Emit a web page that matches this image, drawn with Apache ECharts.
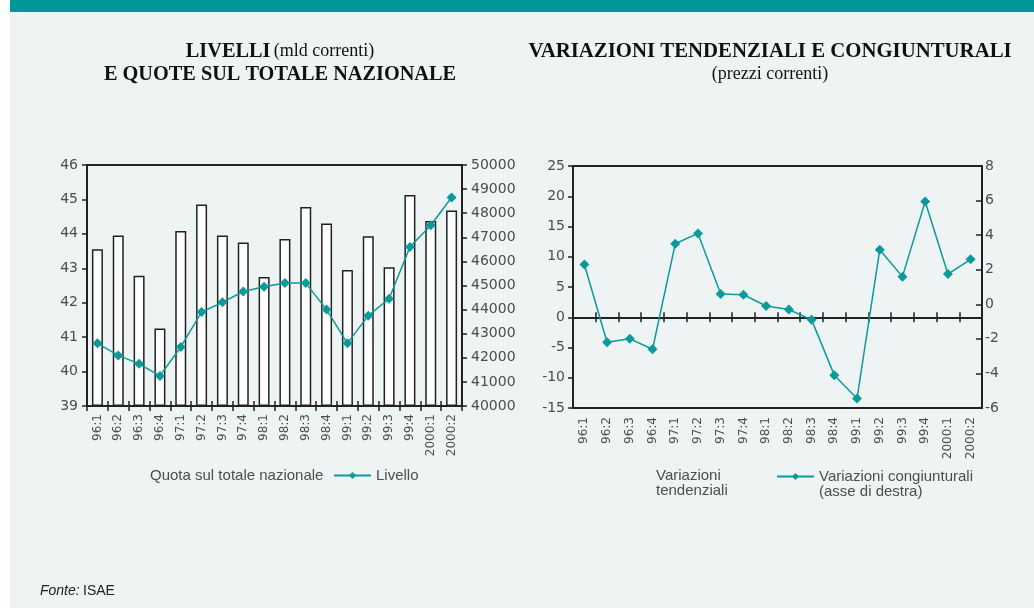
<!DOCTYPE html>
<html>
<head>
<meta charset="utf-8">
<script src="https://cdn.jsdelivr.net/npm/echarts@6/dist/echarts.min.js"></script>
<style>
  html, body { margin: 0; padding: 0; background: #fff; }
  #main { width: 1034px; height: 608px; }
</style>
</head>
<body>
<div id="main"></div>
<script>
// dati
const categories = ['96:1', '96:2', '96:3', '96:4', '97:1', '97:2', '97:3', '97:4', '98:1',
  '98:2', '98:3', '98:4', '99:1', '99:2', '99:3', '99:4', '2000:1', '2000:2'];
const quota = [43.55, 43.95, 42.78, 41.25, 44.08, 44.85, 43.95, 43.75, 42.75,
  43.85, 44.78, 44.3, 42.95, 43.93, 43.03, 45.13, 44.37, 44.68];
const livello = [42600, 42100, 41750, 41250, 42450, 43900, 44300, 44750, 44950,
  45100, 45100, 44000, 42600, 43750, 44450, 46600, 47500, 48650];
const tendenziali = []; // nessun valore visibile nel grafico
const congiunturali = [2.3, -2.2, -2.0, -2.6, 3.5, 4.1, 0.6, 0.55, -0.1,
  -0.3, -0.9, -4.1, -5.45, 3.15, 1.6, 5.95, 1.75, 2.6];

const teal = '#0a9a9c';
const ink = '#222';
const labelColor = '#4d4d4d';
const sans = 'DejaVu Sans';
const legendFont = 'Liberation Sans';

const labelY = { color: labelColor, fontFamily: sans, fontSize: 14, formatter: v => String(v) };
const labelX = { color: labelColor, fontFamily: sans, fontSize: 12, rotate: 90, margin: 8, interval: 0 };
const tickStyle = { color: ink, width: 1.5 };

function catAxis(grid, extra) {
  return Object.assign({
    type: 'category', gridIndex: grid, data: categories, boundaryGap: true,
    position: 'bottom',
    axisLine: { show: true, onZero: false, lineStyle: { color: ink, width: 2 } },
    axisTick: { show: true, length: 5, interval: 0, lineStyle: tickStyle },
    axisLabel: { show: false, interval: 0 },
    splitLine: { show: false }
  }, extra);
}

function valAxis(grid, pos, min, max, step, extra) {
  return Object.assign({
    type: 'value', gridIndex: grid, position: pos, min: min, max: max, interval: step,
    axisLine: { show: true, lineStyle: { color: ink, width: 2 } },
    axisTick: { show: true, length: 5, lineStyle: tickStyle },
    axisLabel: Object.assign({ margin: 9 }, labelY),
    splitLine: { show: false }
  }, extra);
}

const legendText = { fontFamily: legendFont, fontSize: 15, color: labelColor };

const option = {
  backgroundColor: '#fff',
  animation: false,
  graphic: [
    { type: 'rect', shape: { x: 10, y: 0, width: 1024, height: 12 }, style: { fill: '#00979a' }, z: -10 },
    { type: 'rect', shape: { x: 10, y: 12, width: 1024, height: 596 }, style: { fill: '#eef4f4' }, z: -10 },
    {
      type: 'text', x: 280, y: 40,
      style: {
        text: '{b|LIVELLI} {n|(mld correnti)}\n{b|E QUOTE SUL TOTALE NAZIONALE}',
        align: 'center', verticalAlign: 'top', fill: '#111',
        rich: {
          b: { fontFamily: 'Liberation Serif', fontSize: 20.3, fontWeight: 'bold', lineHeight: 23, fill: '#111' },
          n: { fontFamily: 'Liberation Serif', fontSize: 18, lineHeight: 23, fill: '#111' }
        }
      }
    },
    {
      type: 'text', x: 770, y: 40,
      style: {
        text: '{b|VARIAZIONI TENDENZIALI E CONGIUNTURALI}\n{n|(prezzi correnti)}',
        align: 'center', verticalAlign: 'top', fill: '#111',
        rich: {
          b: { fontFamily: 'Liberation Serif', fontSize: 20.8, fontWeight: 'bold', lineHeight: 23, fill: '#111', align: 'center' },
          n: { fontFamily: 'Liberation Serif', fontSize: 18, lineHeight: 23, fill: '#111', align: 'center' }
        }
      }
    },
    {
      type: 'text', x: 40, y: 584,
      style: {
        text: '{i|Fonte:} {n|ISAE}',
        rich: {
          i: { fontFamily: legendFont, fontSize: 14, fontStyle: 'italic', fill: '#222' },
          n: { fontFamily: legendFont, fontSize: 14, fill: '#222' }
        }
      }
    }
  ],
  grid: [
    { left: 87, right: 572, top: 165, bottom: 202, show: true, borderColor: ink, borderWidth: 2, outerBoundsMode: 'none' },
    { left: 573, right: 52, top: 166, bottom: 200, show: true, borderColor: ink, borderWidth: 2, outerBoundsMode: 'none' }
  ],
  legend: [
    {
      data: [{ name: 'Quota sul totale nazionale', icon: 'none' }],
      left: 140, top: 463, itemWidth: 0, itemHeight: 9, textStyle: legendText
    },
    {
      data: ['Livello'], left: 328, top: 463, itemWidth: 37, itemHeight: 9, textStyle: legendText
    },
    {
      data: [{ name: 'Variazioni tendenziali', icon: 'none' }],
      left: 646, top: 463, itemWidth: 0, itemHeight: 9,
      formatter: function () { return 'Variazioni\ntendenziali'; },
      textStyle: Object.assign({ lineHeight: 15 }, legendText)
    },
    {
      data: ['Variazioni congiunturali (asse di destra)'], left: 771, top: 449, itemWidth: 37, itemHeight: 9,
      // riga vuota in testa: il simbolo resta all'altezza della prima riga di testo
      formatter: function () { return ' \nVariazioni congiunturali\n(asse di destra)'; },
      textStyle: Object.assign({ lineHeight: 15 }, legendText)
    }
  ],
  xAxis: [
    // grafico di sinistra
    catAxis(0, { axisLabel: labelX }),
    catAxis(0, { axisLine: { show: false, onZero: false }, axisTick: { show: true, inside: true, length: 5, interval: 0, lineStyle: tickStyle } }),
    // grafico di destra: linea sullo zero, etichette in basso
    catAxis(1, { axisLine: { show: true, onZero: true, onZeroAxisIndex: 2, lineStyle: { color: ink, width: 2 } } }),
    catAxis(1, { axisLine: { show: false, onZero: true, onZeroAxisIndex: 2 }, axisTick: { show: true, inside: true, length: 5, interval: 0, lineStyle: tickStyle } }),
    catAxis(1, { axisTick: { show: false }, axisLabel: Object.assign({}, labelX, { margin: 9 }) })
  ],
  yAxis: [
    valAxis(0, 'left', 39, 46, 1, { startValue: 39 }),
    valAxis(0, 'right', 40000, 50000, 1000),
    valAxis(1, 'left', -15, 25, 5, { axisLabel: Object.assign({ margin: 8 }, labelY) }),
    valAxis(1, 'right', -6, 8, 2, {
      axisTick: { show: true, inside: true, length: 6, lineStyle: tickStyle },
      axisLabel: Object.assign({ margin: 3 }, labelY)
    })
  ],
  series: [
    {
      name: 'Quota sul totale nazionale', type: 'bar', xAxisIndex: 0, yAxisIndex: 0,
      data: quota, barWidth: 11,
      itemStyle: { color: '#fff', borderColor: ink, borderWidth: 1.5 }
    },
    {
      name: 'Livello', type: 'line', xAxisIndex: 0, yAxisIndex: 1, data: livello,
      symbol: 'diamond', symbolSize: 10, z: 5,
      lineStyle: { color: teal, width: 1.5 }, itemStyle: { color: teal }
    },
    {
      name: 'Variazioni tendenziali', type: 'bar', xAxisIndex: 2, yAxisIndex: 2,
      data: tendenziali, itemStyle: { color: '#fff', borderColor: ink }
    },
    {
      name: 'Variazioni congiunturali (asse di destra)', type: 'line', xAxisIndex: 2, yAxisIndex: 3,
      data: congiunturali, symbol: 'diamond', symbolSize: 10, z: 5,
      lineStyle: { color: teal, width: 1.5 }, itemStyle: { color: teal }
    }
  ]
};

const chart = echarts.init(document.getElementById('main'));
chart.setOption(option);
</script>
</body>
</html>
